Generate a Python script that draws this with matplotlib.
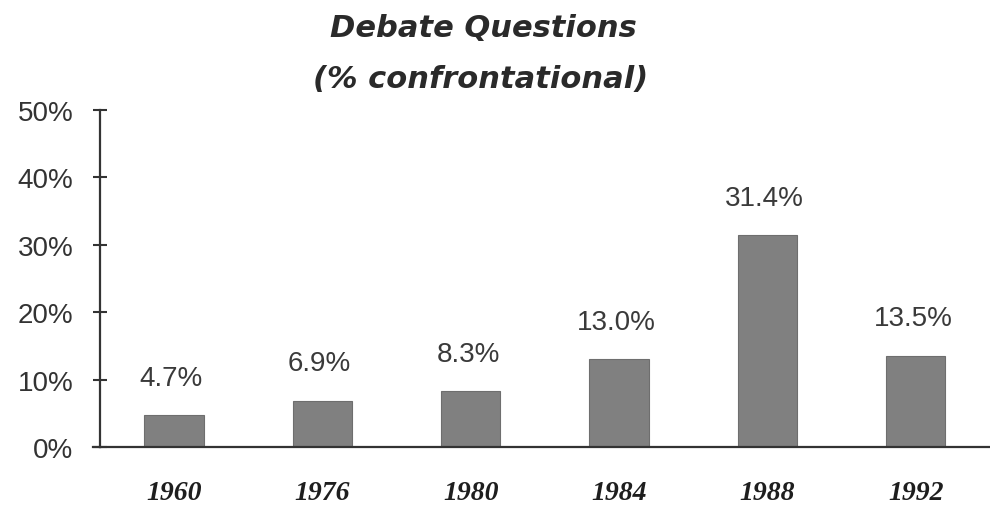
import matplotlib
matplotlib.use("Agg")
import matplotlib.pyplot as plt

years = ["1960", "1976", "1980", "1984", "1988", "1992"]
confrontational_pct = [4.7, 6.9, 8.3, 13.0, 31.4, 13.5]
y_ticks = [0, 10, 20, 30, 40, 50]
y_tick_labels = ["0%", "10%", "20%", "30%", "40%", "50%"]

fig = plt.figure(figsize=(9.9, 5.06), dpi=100)
fig.patch.set_facecolor("white")
ax = fig.add_axes([0.101, 0.1146, 0.899, 0.666])

x = range(len(years))
bars = ax.bar(x, confrontational_pct, width=0.4, color="#808080",
              edgecolor="#6e6e6e", linewidth=0.8, zorder=2)

for xi, val in zip(x, confrontational_pct):
    ax.annotate(f"{val:.1f}%", xy=(xi, val), xytext=(-2, 22),
                textcoords="offset points", ha="center", va="baseline",
                fontsize=20, color="#3a3a3a", family="Liberation Sans")

ax.set_xlim(-0.5, len(years) - 0.5)
ax.set_ylim(0, 50)

ax.set_yticks(y_ticks)
ax.set_yticklabels(y_tick_labels, fontsize=20, color="#333333",
                   family="Liberation Sans")
ax.tick_params(axis="y", direction="inout", length=10, width=1.5,
               color="#333333", pad=14)

ax.set_xticks(list(x))
ax.set_xticklabels(years, fontsize=20, fontweight="bold", style="italic",
                   family="Liberation Serif", color="#1e1e1e")
ax.tick_params(axis="x", length=0, pad=24)

for side in ("top", "right"):
    ax.spines[side].set_visible(False)
for side in ("left", "bottom"):
    ax.spines[side].set_color("#333333")
    ax.spines[side].set_linewidth(1.6)
ax.plot([-0.55, -0.5], [0, 0], color="#333333", lw=1.6, clip_on=False)

fig.text(0.488, 1 - 37 / 506, "Debate Questions", ha="center", va="baseline",
         fontsize=22, style="italic", fontweight="bold", family="DejaVu Sans",
         color="#2a2a2a")
fig.text(0.485, 1 - 88 / 506, "(% confrontational)", ha="center",
         va="baseline", fontsize=22, style="italic", fontweight="bold",
         family="DejaVu Sans", color="#2a2a2a")

fig.savefig("out.png", dpi=100, facecolor="white")
